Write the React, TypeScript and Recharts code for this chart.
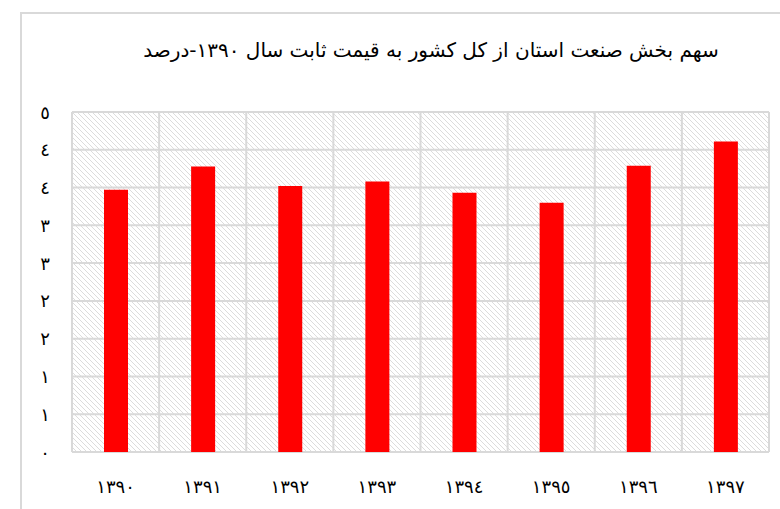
import React from 'react';
import { BarChart, Bar, XAxis, YAxis, CartesianGrid } from 'recharts';

const years = ['1390', '1391', '1392', '1393', '1394', '1395', '1396', '1397'];
const shares = [3.47, 3.78, 3.52, 3.58, 3.43, 3.3, 3.79, 4.11];
const yTicks = [0, 0.5, 1, 1.5, 2, 2.5, 3, 3.5, 4, 4.5];

const title = 'سهم بخش صنعت استان از کل کشور به قیمت ثابت سال ۱۳۹۰-درصد';

const data = years.map((y, i) => ({ year: y, value: shares[i] }));

const arabicDigits = (s: string) => s.replace(/[0-9]/g, (d) => String.fromCharCode(0x0660 + Number(d)));

const FONT = '"DejaVu Sans", sans-serif';

const YTick = (props: any) => {
  const { y, payload } = props;
  return (
    <text x={45} y={y} textAnchor="middle" dominantBaseline="central" fontSize={18} fill="#000" fontFamily={FONT}>
      {arabicDigits(String(Math.round(payload.value)))}
    </text>
  );
};

const XTick = (props: any) => {
  const { x, y, payload } = props;
  return (
    <text x={x} y={y + 26} textAnchor="middle" dominantBaseline="central" fontSize={18} fill="#000" fontFamily={FONT} letterSpacing={3}>
      {arabicDigits(payload.value)}
    </text>
  );
};

export default function App() {
  return (
    <div style={{ position: 'absolute', left: 0, top: 0, width: 780, height: 509, overflow: 'hidden', background: '#fff' }}>
      <div style={{ position: 'absolute', left: 20, top: 12, width: 800, height: 520, border: '2px solid #d9d9d9', boxSizing: 'border-box' }} />
      <div
        dir="rtl"
        style={{ position: 'absolute', left: 0, width: 862, top: 38, textAlign: 'center', fontFamily: FONT, fontSize: 20, color: '#000' }}
      >
        {title}
      </div>
      <div style={{ position: 'absolute', left: 0, top: 0 }}>
        <BarChart width={780} height={509} data={data} margin={{ top: 112, right: 11, bottom: 27, left: 22 }}>
          <defs>
            <pattern id="hatch" patternUnits="userSpaceOnUse" width={5} height={5}>
              <rect width={5} height={5} fill="#fff" />
              <path d="M0,0 L5,5 M-1,4 L1,6 M4,-1 L6,1" stroke="#dcdcdc" strokeWidth={1} />
            </pattern>
          </defs>
          <CartesianGrid
            fill="url(#hatch)"
            fillOpacity={1}
            stroke="#d9d9d9"
            strokeWidth={2}
            verticalCoordinatesGenerator={({ offset }: any) =>
              Array.from({ length: years.length + 1 }, (_, i) => offset.left + (i * offset.width) / years.length)
            }
          />
          <XAxis dataKey="year" height={30} axisLine={false} tickLine={false} tick={<XTick />} interval={0} />
          <YAxis
            width={50}
            domain={[0, 4.5]}
            ticks={yTicks}
            axisLine={false}
            tickLine={false}
            tick={<YTick />}
            interval={0}
          />
          <Bar dataKey="value" fill="#ff0000" barSize={24} isAnimationActive={false} />
        </BarChart>
      </div>
    </div>
  );
}
